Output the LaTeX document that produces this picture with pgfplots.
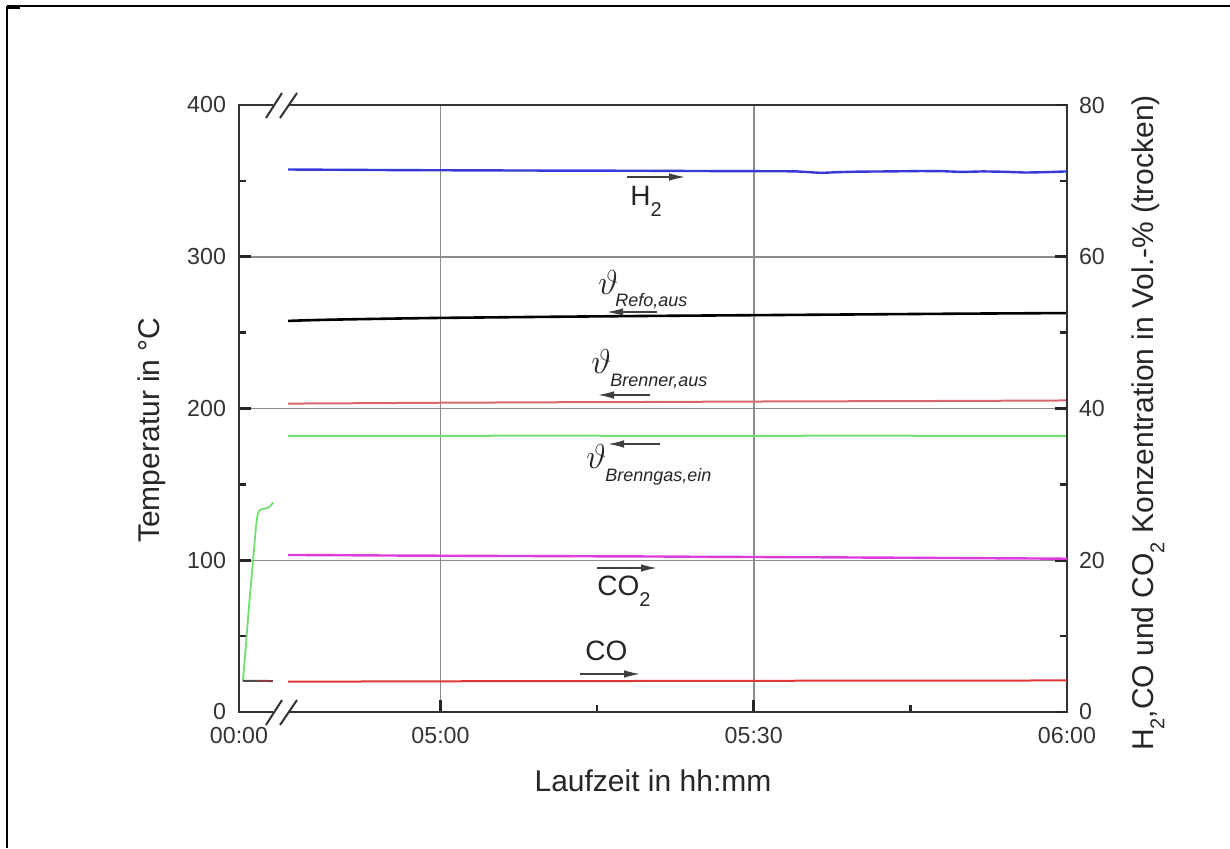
\documentclass[border=0pt]{standalone}
\usepackage{fontspec}
\setmainfont{Liberation Sans}
\usepackage{pgfplots}
\pgfplotsset{compat=1.18}
\usetikzlibrary{arrows.meta}

\definecolor{axgray}{HTML}{333333}
\definecolor{gridgray}{HTML}{8C8C8C}
\definecolor{htwo}{HTML}{3838D8}
\definecolor{brenner}{HTML}{D8666C}
\definecolor{brenngas}{HTML}{70DE70}
\definecolor{cotwo}{HTML}{DD3CDD}
\definecolor{cored}{HTML}{E03838}

% x: minutes of run time (right part), the warm-up part is squeezed in before the break
% start-up phase (left of the axis break), temperatures in degC
\pgfplotstableread{
x      t
281.08 20.5
281.40 47.4
281.71 73.8
282.03 98.2
282.30 119.9
282.52 130.9
282.84 133.6
283.32 134.2
283.63 135.3
284.00 138.2
}\startgas
\pgfplotstableread{
x      t
281.08 20.6
283.95 20.4
}\startrefo
\pgfplotstableread{
x      t
282.40 20.3
283.95 20.3
}\startbrenner
% steady operation, temperatures in degC
\pgfplotstableread{
x      refo   brenner  gas
285.4  257.7  203.2    182.0
287.0  258.1  203.3    182.0
290.0  258.6  203.4    181.9
295.0  259.2  203.6    182.0
300.0  259.7  203.8    182.0
310.0  260.4  204.1    182.1
320.0  261.0  204.3    182.0
330.0  261.5  204.6    182.0
340.0  262.0  204.8    182.1
350.0  262.5  205.0    182.0
360.0  262.9  205.3    182.0
}\steady
% gas composition in Vol.-% (dry)
\pgfplotstableread{
x      htwo   cotwo  co
285.4  71.50  20.70  4.00
288.0  71.48  20.68  4.00
292.0  71.45  20.65  4.02
296.0  71.42  20.62  4.03
300.0  71.40  20.60  4.05
305.0  71.38  20.57  4.06
310.0  71.36  20.55  4.07
315.0  71.35  20.52  4.08
320.0  71.33  20.50  4.09
325.0  71.30  20.46  4.10
330.0  71.28  20.43  4.11
334.0  71.26  20.40  4.12
336.5  71.05  20.39  4.12
338.0  71.15  20.38  4.12
340.0  71.22  20.36  4.13
343.0  71.25  20.34  4.13
346.0  71.30  20.32  4.14
348.0  71.28  20.30  4.14
350.0  71.18  20.29  4.14
352.0  71.25  20.27  4.15
354.0  71.20  20.25  4.15
356.0  71.10  20.24  4.15
358.0  71.15  20.22  4.16
360.0  71.25  20.20  4.16
}\gas

\pgfplotsset{
  common/.style={
    at={(119.5pt,68pt)}, anchor=south west,
    scale only axis, width=414pt, height=303.5pt,
    xmin=280.7, xmax=360,
    axis line style={axgray, line width=1.2pt},
    tick align=inside,
    major tick length=6pt, minor tick length=3.5pt,
    every tick/.style={black!85, line width=1.3pt},
    tick label style={font=\fontsize{11.6}{13}\selectfont, color=axgray},
    /pgf/number format/assume math mode=true,
  },
}

\begin{document}
\begin{tikzpicture}
\path[use as bounding box] (0,0) rectangle (615pt,424pt);

\begin{axis}[common,
  ymin=0, ymax=400,
  xtick={280.7,300,330,360},
  xticklabels={00:00,05:00,05:30,06:00},
  minor xtick={315,345},
  ytick={0,100,200,300,400},
  minor ytick={50,150,250,350},
  xtick pos=bottom, ytick pos=left,
  xticklabel style={yshift=-4pt},
  yticklabel style={xshift=-3pt},
  xmajorgrids, ymajorgrids,
  major grid style={gridgray, line width=0.75pt},
]
\addplot[brenngas, line width=0.9pt, smooth] table[x=x, y=t] {\startgas};
\addplot[black!70, line width=1pt] table[x=x, y=t] {\startrefo};
\addplot[brenner!60!black, line width=1pt] table[x=x, y=t] {\startbrenner};
\addplot[black, line width=1.3pt, smooth] table[x=x, y=refo] {\steady};
\addplot[brenner, line width=1pt] table[x=x, y=brenner] {\steady};
\addplot[brenngas, line width=1pt] table[x=x, y=gas] {\steady};
\end{axis}

\begin{axis}[common,
  ymin=0, ymax=80,
  hide x axis,
  axis y line*=right,
  ytick={0,20,40,60,80},
  minor ytick={10,30,50,70},
  yticklabel style={xshift=2.5pt},
]
\addplot[htwo, line width=1.2pt] table[x=x, y=htwo] {\gas};
\addplot[cotwo, line width=1.2pt] table[x=x, y=cotwo] {\gas};
\addplot[cored, line width=1pt] table[x=x, y=co] {\gas};
\end{axis}

% annotations, drawn in a frame of 1/2 pt units measured from the top left corner
\begin{scope}[x=0.5pt, y=-0.5pt, yshift=424pt]
  % outer frame
  \draw[black, line width=1pt] (7,6) -- (7,848);
  \draw[black, line width=0.65pt] (7,6) -- (1230,6);
  \draw[black, line width=1.6pt] (7,7) -- (20,7);
  % axis break
  \fill[white] (273,100) rectangle (289,110);
  \fill[white] (273,707) rectangle (289,717);
  \foreach \yy in {105,712}{
    \draw[axgray, line width=1pt] (266,\yy+13) -- (282,\yy-12);
    \draw[axgray, line width=1pt] (280,\yy+13) -- (297,\yy-12);
  }
  % axis titles
  \node[rotate=90, font=\fontsize{15}{18}\selectfont, text=black!85] at (152,430) {Temperatur in °C};
  \node[font=\fontsize{15}{18}\selectfont, text=black!85] at (653,781) {Laufzeit in hh:mm};
  \node[rotate=90, font=\fontsize{15}{18}\selectfont, text=black!85] at (1148,423)
    {H\raisebox{-0.7ex}{\fontsize{10}{10}\selectfont 2},CO und CO\raisebox{-0.7ex}{\fontsize{10}{10}\selectfont 2} Konzentration in Vol.-\% (trocken)};
  % curve labels
  \tikzset{lab/.style={inner sep=0pt, anchor=base west, text=black!85}}
  \tikzset{arr/.style={black!75, line width=0.7pt, -{Latex[length=8pt, width=3.8pt]}}}
  \draw[arr] (627,177) -- (685,177);
  \node[lab, font=\fontsize{14}{16}\selectfont] at (630,205) {H\raisebox{-0.8ex}{\fontsize{10}{10}\selectfont 2}};
  \draw[arr] (657,312) -- (607,312);
  \node[lab, font=\fontsize{18}{20}\selectfont] at (598,294) {$\vartheta$};
  \node[lab, font=\fontsize{9}{11}\selectfont\itshape] at (615,306) {Refo,aus};
  \draw[arr] (650,395) -- (598,395);
  \node[lab, font=\fontsize{18}{20}\selectfont] at (591,373) {$\vartheta$};
  \node[lab, font=\fontsize{9}{11}\selectfont\itshape] at (610,386) {Brenner,aus};
  \draw[arr] (660,444) -- (608,444);
  \node[lab, font=\fontsize{18}{20}\selectfont] at (586,468) {$\vartheta$};
  \node[lab, font=\fontsize{9}{11}\selectfont\itshape] at (605,481) {Brenngas,ein};
  \draw[arr] (597,568) -- (657,568);
  \node[lab, font=\fontsize{14}{16}\selectfont] at (597,595) {CO\raisebox{-0.8ex}{\fontsize{10}{10}\selectfont 2}};
  \draw[arr] (580,674) -- (640,674);
  \node[lab, font=\fontsize{14}{16}\selectfont] at (585,660) {CO};
\end{scope}
\end{tikzpicture}
\end{document}
